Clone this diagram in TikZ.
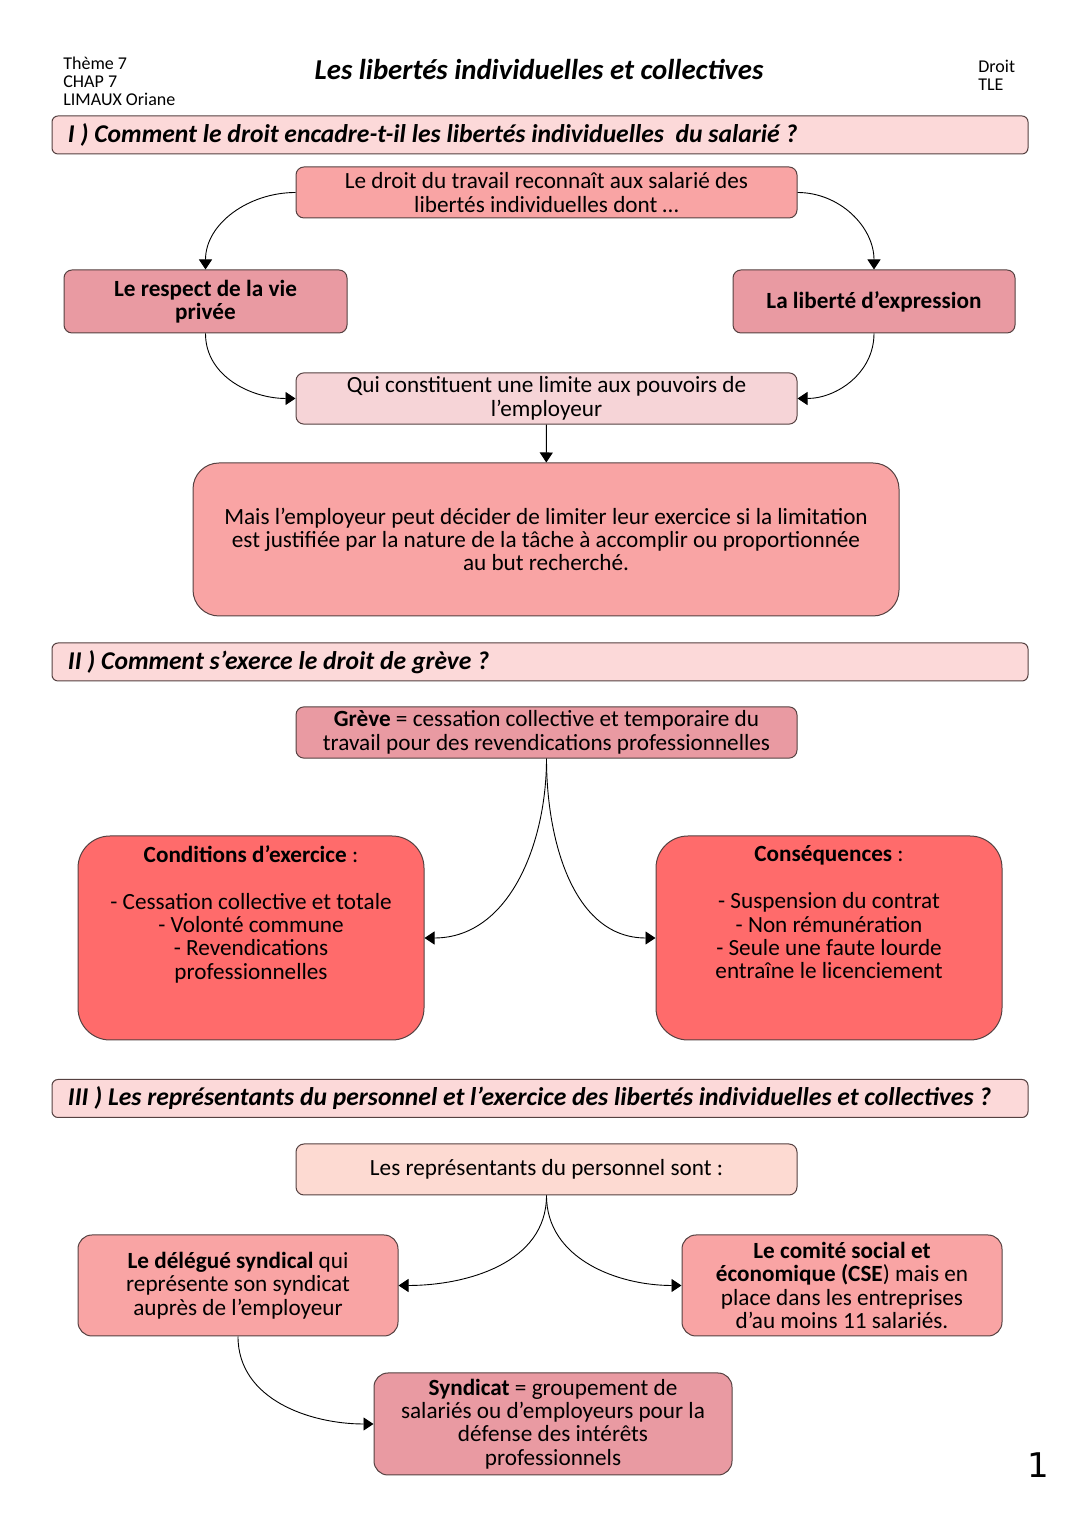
\documentclass[tikz,border=0pt]{standalone}
\usepackage{fontspec}
\setmainfont{Carlito}
\newfontfamily\pagefont{DejaVu Sans}
\usetikzlibrary{arrows.meta}

\definecolor{bannerpink}{RGB}{252,217,217}
\definecolor{salmon}{RGB}{249,164,164}
\definecolor{dusty}{RGB}{233,154,162}
\definecolor{palepink}{RGB}{246,212,215}
\definecolor{strongred}{RGB}{255,107,107}
\definecolor{peach}{RGB}{253,218,210}
\definecolor{edge}{RGB}{85,65,65}

\tikzset{
  every box/.style={draw=edge, line width=0.5pt, rounded corners=4pt, align=center,
    inner sep=2pt, font=\fontsize{11.6}{11.7}\selectfont},
  wide box/.style={minimum width=250.5pt, minimum height=25.5pt},
  banner/.style={draw=edge, line width=0.5pt, fill=bannerpink, rounded corners=3pt,
    minimum height=19pt, inner xsep=8pt,
    font=\fontsize{12.8}{13}\selectfont\bfseries\itshape},
  link/.style={->, draw=black, line width=0.45pt},
}

\begin{document}
\begin{tikzpicture}[x=0.5pt, y=0.5pt, >={Triangle[length=5pt, width=6.5pt]}]
\useasboundingbox (0,0) rectangle (1080,1527);

% Header
\node [align=left, anchor=west, inner sep=0, font=\fontsize{9}{9}\selectfont] (theme) at (63,1446) {Thème 7\\CHAP 7\\LIMAUX Oriane};
\node [inner sep=0, font=\fontsize{14.4}{15}\selectfont\bfseries\itshape] (title) at (539,1457) {Les libertés individuelles et collectives};
\node [align=left, anchor=west, inner sep=0, font=\fontsize{9}{9}\selectfont] (subject) at (978,1452) {Droit\\TLE};

% Draw the section banners
\foreach \n/\y/\t in {1/1392/{I ) Comment le droit encadre-t-il les libertés individuelles \ du salarié ?},
                      2/865/{II ) Comment s’exerce le droit de grève ?},
                      3/428.5/{III ) Les représentants du personnel et l’exercice des libertés individuelles et collectives ?}}
  \node [banner] (banner-\n) at (540,\y) {\makebox[472pt][l]{\t}};

% Part I
\node [every box, wide box, fill=salmon] (travail) at (546.5,1334.5)
  {Le droit du travail reconnaît aux salarié des\\libertés individuelles dont …};
\node [every box, fill=dusty, minimum width=141.5pt, minimum height=31.5pt, font=\fontsize{11.6}{11.7}\selectfont\bfseries] (vieprivee) at (205.5,1225.5)
  {Le respect de la vie\\privée};
\node [every box, fill=dusty, minimum width=141pt, minimum height=31.5pt, font=\fontsize{11.6}{11.7}\selectfont\bfseries] (expression) at (874,1225.5)
  {La liberté d’expression};
\node [every box, wide box, fill=palepink] (limite) at (546.5,1128.5)
  {Qui constituent une limite aux pouvoirs de\\l’employeur};
\node [every box, fill=salmon, rounded corners=13pt, minimum width=353pt, minimum height=76.5pt] (limitation) at (546,987.5)
  {Mais l’employeur peut décider de limiter leur exercice si la limitation\\est justifiée par la nature de la tâche à accomplir ou proportionnée\\au but recherché.};

% Part II
\node [every box, wide box, fill=dusty] (greve) at (546.5,794.5)
  {\textbf{Grève} = cessation collective et temporaire du\\travail pour des revendications professionnelles};
\node [every box, fill=strongred, rounded corners=16pt, minimum width=173pt, minimum height=102pt] (conditions) at (251,589)
  {\textbf{Conditions d’exercice} :\\[11.7pt]- Cessation collective et totale\\- Volonté commune\\- Revendications\\professionnelles\\[14pt]\mbox{}};
\node [every box, fill=strongred, rounded corners=16pt, minimum width=173pt, minimum height=102pt] (consequences) at (829,589)
  {\textbf{Conséquences} :\\[11.7pt]- Suspension du contrat\\- Non rémunération\\- Seule une faute lourde\\entraîne le licenciement\\[14pt]\mbox{}};

% Part III
\node [every box, wide box, fill=peach] (representants) at (546.5,357.5)
  {Les représentants du personnel sont :};
\node [every box, fill=salmon, rounded corners=7pt, minimum width=160pt, minimum height=50.5pt] (delegue) at (238,241.5)
  {\textbf{Le délégué syndical} qui\\représente son syndicat\\auprès de l’employeur};
\node [every box, fill=salmon, rounded corners=7pt, minimum width=160pt, minimum height=50.5pt] (cse) at (842,241.5)
  {\textbf{Le comité social et}\\\textbf{économique (CSE}) mais en\\place dans les entreprises\\d’au moins 11 salariés.};
\node [every box, fill=dusty, rounded corners=7pt, minimum width=179pt, minimum height=51pt] (syndicat) at (553,103)
  {\textbf{Syndicat} = groupement de\\salariés ou d’employeurs pour la\\défense des intérêts\\professionnels};

% Page number
\node [inner sep=0, font=\pagefont\fontsize{17}{20}\selectfont] (page) at (1038,62) {1};

% Connect the boxes
\draw [link] (travail.west) to[out=180, in=90] (vieprivee.north);
\draw [link] (travail.east) to[out=0, in=90] (expression.north);
\draw [link] (vieprivee.south) to[out=270, in=180] (limite.west);
\draw [link] (expression.south) to[out=270, in=0] (limite.east);
\draw [link] (limite) -- (limitation);

\foreach \a/\b/\s/\e in {greve/conditions/0/east, greve/consequences/180/west,
                         representants/delegue/0/east, representants/cse/180/west}
  \draw [link] (\a.south) to[out=270, in=\s] (\b.\e);

\draw [link] (delegue.south) to[out=270, in=180] (syndicat.west);
\end{tikzpicture}
\end{document}
